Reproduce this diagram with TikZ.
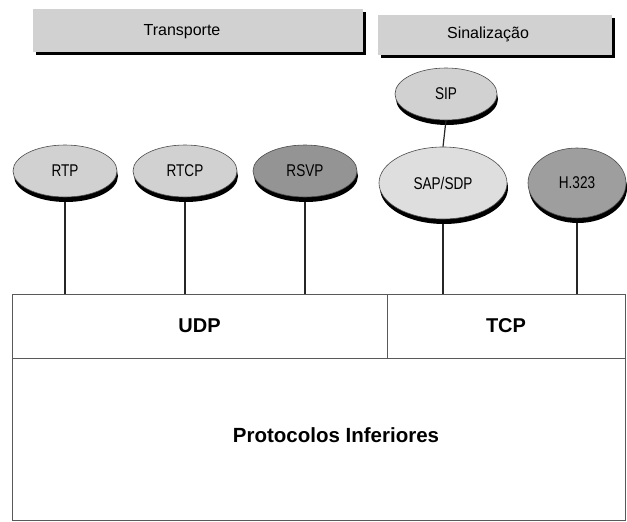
\documentclass[tikz,border=0pt]{standalone}
\usepackage{fontspec}
\setmainfont{Liberation Sans}
\newfontfamily\narrowsans[FakeStretch=0.8]{Liberation Sans}
\usetikzlibrary{shapes.geometric,shadows}
\definecolor{protolight}{gray}{0.82}
\definecolor{protopale}{gray}{0.87}
\definecolor{protodark}{gray}{0.58}
\definecolor{protomid}{gray}{0.62}
\definecolor{tabgray}{gray}{0.82}
\tikzset{
  proto/.style={ellipse, draw=black!70, line width=0.6pt, fill=protolight, inner sep=0pt,
    font=\narrowsans\fontsize{17}{17}\selectfont,
    drop shadow={shadow xshift=1pt, shadow yshift=-5pt, fill=black, opacity=1}},
  tab/.style={rectangle, fill=tabgray, inner sep=0pt,
    drop shadow={shadow xshift=3pt, shadow yshift=-3pt, fill=black, opacity=1}},
  tabtext/.style={inner sep=0pt, font=\fontsize{16}{16}\selectfont},
  layer/.style={rectangle, draw=black!65, line width=0.8pt, inner sep=0pt},
  link/.style={draw=black!85, line width=1.2pt}
}
\begin{document}
\begin{tikzpicture}[x=1pt,y=-1pt]
\useasboundingbox (0,0) rectangle (627,522);
% top tabs
\node[tab, minimum width=330pt, minimum height=43pt] (transp) at (198,30.5) {};
\node[tab, minimum width=234pt, minimum height=40pt] (sinal) at (495,35) {};
\node[tabtext] (transptxt) at (182,32) {Transporte};
\node[tabtext] (sinaltxt) at (488,34) {Sinalização};
% layers
\node[layer, minimum width=375pt, minimum height=64pt] (udp) at (199.5,326)
  {\fontsize{20}{20}\selectfont\bfseries UDP};
\node[layer, minimum width=238pt, minimum height=64pt] (tcp) at (506,326)
  {\fontsize{20}{20}\selectfont\bfseries TCP};
\node[layer, minimum width=613pt, minimum height=162pt] (infer) at (318.5,439) {};
\node[inner sep=0pt, font=\fontsize{20.5}{20.5}\selectfont\bfseries] (infertxt) at (336,435) {Protocolos Inferiores};
% protocols
\node[proto, minimum width=104pt, minimum height=52pt] (rtp) at (65,171) {RTP};
\node[proto, minimum width=104pt, minimum height=52pt] (rtcp) at (185,171) {RTCP};
\node[proto, fill=protodark, minimum width=104pt, minimum height=52pt] (rsvp) at (305,171) {RSVP};
\node[proto, minimum width=102pt, minimum height=52pt] (sip) at (446,94) {SIP};
\node[proto, fill=protopale, minimum width=128pt, minimum height=72pt] (sap) at (443,183) {SAP/SDP};
\node[proto, fill=protomid, minimum width=98pt, minimum height=70pt] (h323) at (577,183) {H.323};
% links
\draw[link] (sip.south) -- (sap.north);
\draw[link] ([yshift=-5pt]rtp.south) -- (rtp.south |- udp.north);
\draw[link] ([yshift=-5pt]rtcp.south) -- (rtcp.south |- udp.north);
\draw[link] ([yshift=-5pt]rsvp.south) -- (rsvp.south |- udp.north);
\draw[link] ([yshift=-5pt]sap.south) -- (sap.south |- tcp.north);
\draw[link] ([yshift=-5pt]h323.south) -- (h323.south |- tcp.north);
\end{tikzpicture}
\end{document}
